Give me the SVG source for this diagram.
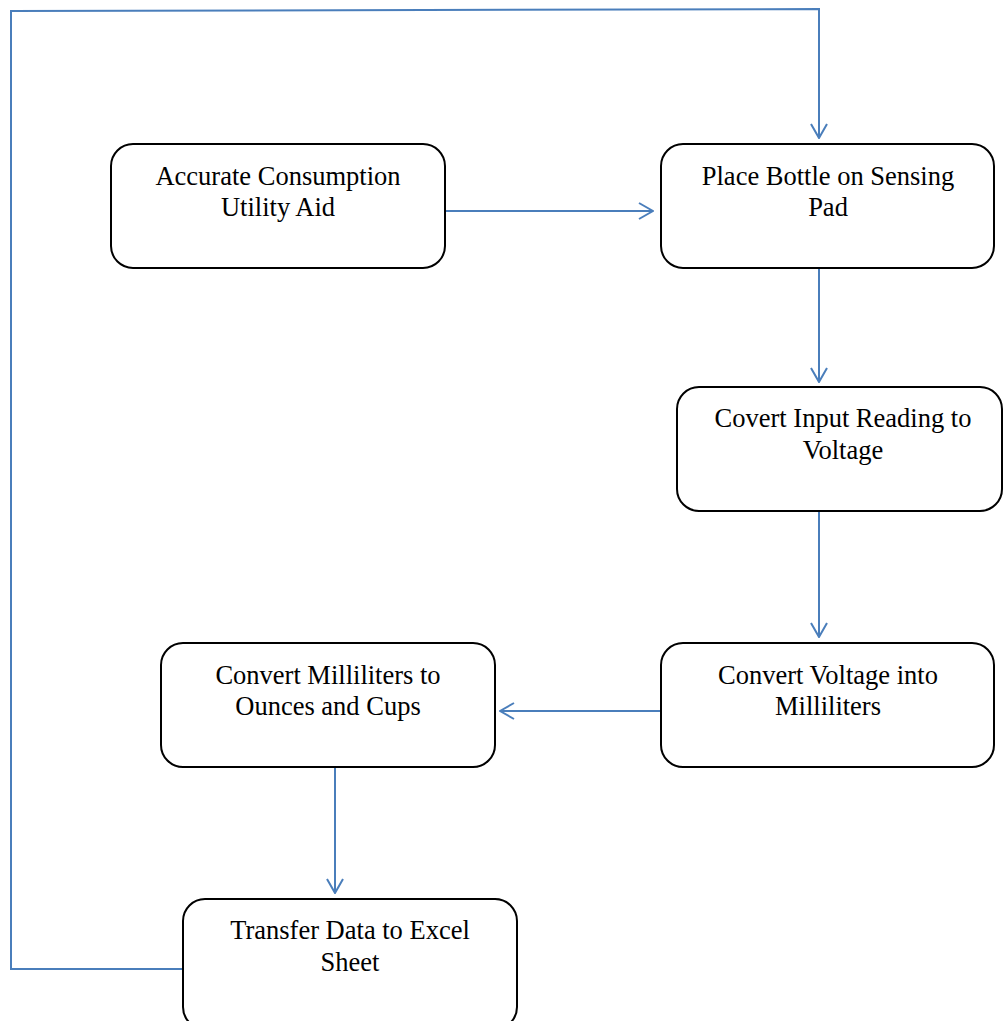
<svg xmlns="http://www.w3.org/2000/svg" width="1003" height="1021" viewBox="0 0 1003 1021">
<style>
.box{fill:#fff;stroke:#000;stroke-width:2}
.t{font-family:"Liberation Serif","Times New Roman",serif;font-size:26.5px;fill:#000;text-anchor:middle}
.c{fill:none;stroke:#4a7ebb;stroke-width:2}
</style>
<defs>
<marker id="ah" viewBox="0 0 16 18" refX="15" refY="9" markerWidth="16" markerHeight="18" markerUnits="userSpaceOnUse" orient="auto">
<path d="M1,1 L15,9 L1,17" fill="none" stroke="#4a7ebb" stroke-width="2"/>
</marker>
</defs>
<rect width="1003" height="1021" fill="#fff"/>
<g id="connectors">
<path class="c" d="M445,211 H653" marker-end="url(#ah)"/>
<path class="c" d="M819,268 V382" marker-end="url(#ah)"/>
<path class="c" d="M819,511 V637" marker-end="url(#ah)"/>
<path class="c" d="M660,711 H500" marker-end="url(#ah)"/>
<path class="c" d="M335,767 V893" marker-end="url(#ah)"/>
<path class="c" d="M183,969 H11 V11 L819,9 V138" marker-end="url(#ah)"/>
</g>
<g id="n1"><rect class="box" x="111" y="144" width="334" height="124" rx="22"/>
<text class="t" x="278" y="185">Accurate Consumption</text><text class="t" x="278" y="216">Utility Aid</text></g>
<g id="n2"><rect class="box" x="661" y="144" width="333" height="124" rx="22"/>
<text class="t" x="828" y="185">Place Bottle on Sensing</text><text class="t" x="828" y="216">Pad</text></g>
<g id="n3"><rect class="box" x="677" y="387" width="325" height="124" rx="22"/>
<text class="t" x="843" y="427">Covert Input Reading to</text><text class="t" x="843" y="459">Voltage</text></g>
<g id="n4"><rect class="box" x="661" y="643" width="333" height="124" rx="22"/>
<text class="t" x="828" y="684">Convert Voltage into</text><text class="t" x="828" y="715">Milliliters</text></g>
<g id="n5"><rect class="box" x="161" y="643" width="334" height="124" rx="22"/>
<text class="t" x="328" y="684">Convert Milliliters to</text><text class="t" x="328" y="715">Ounces and Cups</text></g>
<g id="n6"><rect class="box" x="183" y="899" width="334" height="130" rx="22"/>
<text class="t" x="350" y="939">Transfer Data to Excel</text><text class="t" x="350" y="971">Sheet</text></g>
</svg>
